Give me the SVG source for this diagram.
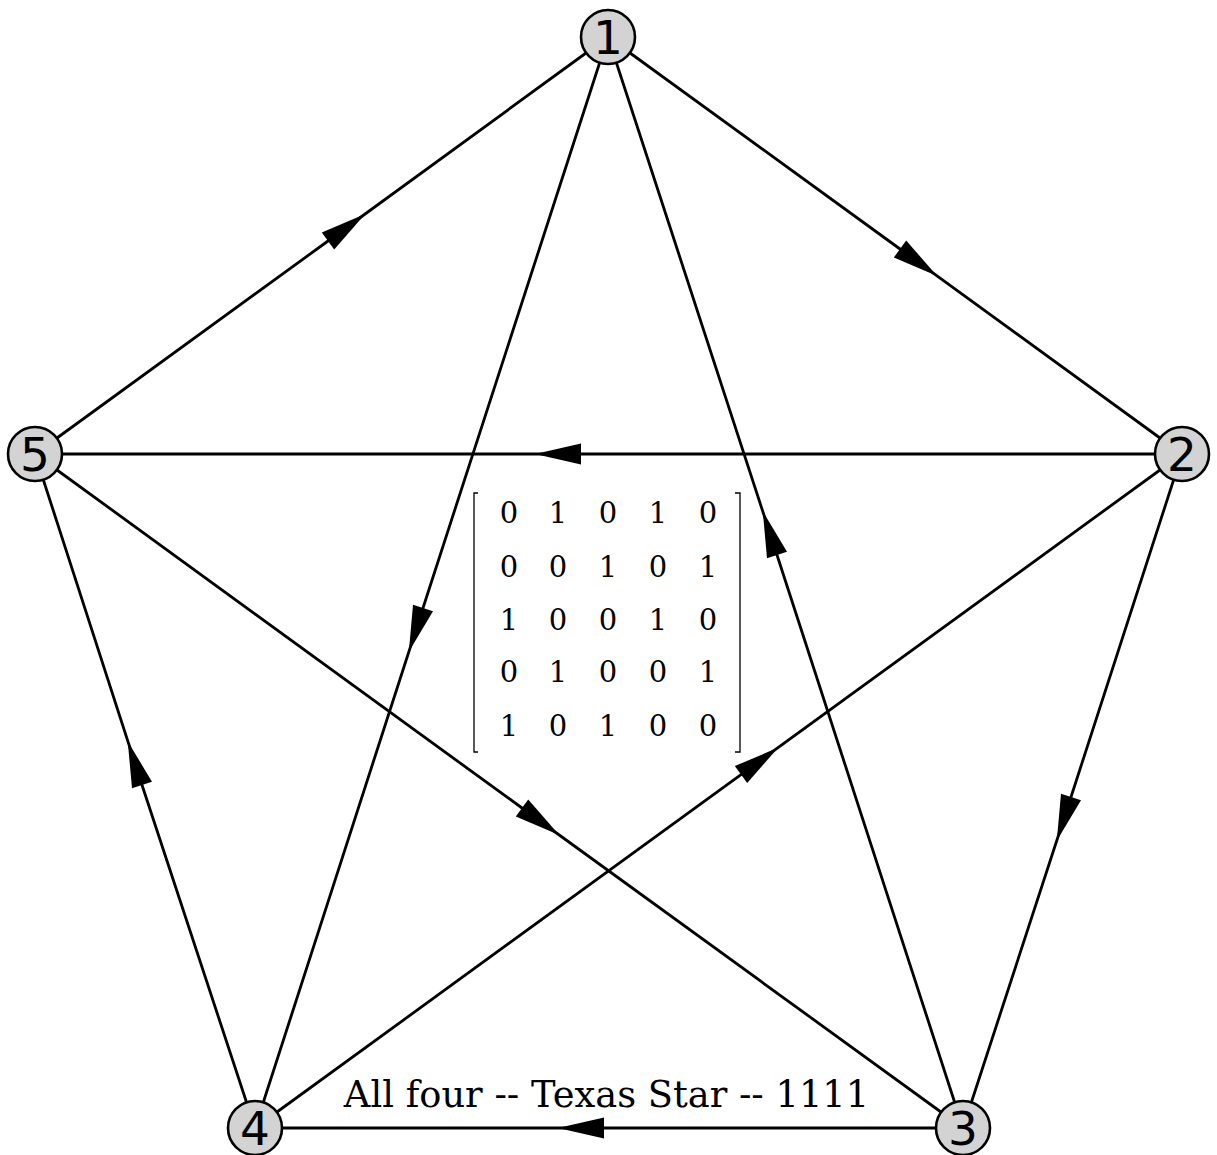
<svg xmlns="http://www.w3.org/2000/svg" width="1217" height="1155" viewBox="0 0 1217 1155">
<style>
.edge{fill:none;stroke:#000;stroke-width:2.8;marker-mid:url(#ah)}
.node circle{fill:#d3d3d3;stroke:#000;stroke-width:2.6}
.node text{font-family:"DejaVu Sans",sans-serif;font-size:47px;text-anchor:middle;fill:#000}
.m{font-family:"DejaVu Serif",serif;font-size:29px;text-anchor:middle;fill:#000}
.br{fill:none;stroke:#000;stroke-width:1.3}
.title{font-family:"DejaVu Serif",serif;font-size:36.8px;text-anchor:middle;fill:#000}
</style>
<defs>
<marker id="ah" markerUnits="userSpaceOnUse" markerWidth="50" markerHeight="24" refX="0" refY="11" orient="auto" overflow="visible">
<polygon points="0,0.5 46,11 0,21.5" fill="#000"/>
</marker>
</defs>
<rect width="1217" height="1155" fill="#fff"/>
<g id="connectors">
<path class="edge" d="M608,37 L900,249 L1182,454"/>
<path class="edge" d="M35,454 L328,241 L608,37"/>
<path class="edge" d="M1182,454 L581,454 L35,454"/>
<path class="edge" d="M608,37 L423,608 L255,1128"/>
<path class="edge" d="M963,1128 L777,555 L608,37"/>
<path class="edge" d="M1182,454 L1071,797 L963,1128"/>
<path class="edge" d="M255,1128 L142,785 L35,454"/>
<path class="edge" d="M35,454 L522,808 L963,1128"/>
<path class="edge" d="M255,1128 L741,774.6 L1182,454"/>
<path class="edge" d="M963,1128 L604,1128 L255,1128"/>
</g>
<g id="node1" class="node"><circle cx="608" cy="37" r="27"/><text x="608" y="54">1</text></g>
<g id="node2" class="node"><circle cx="1182" cy="454" r="27"/><text x="1182" y="471">2</text></g>
<g id="node3" class="node"><circle cx="963" cy="1128" r="27"/><text x="963" y="1145">3</text></g>
<g id="node4" class="node"><circle cx="255" cy="1128" r="27"/><text x="255" y="1145">4</text></g>
<g id="node5" class="node"><circle cx="35" cy="454" r="27"/><text x="35" y="471">5</text></g>
<g id="matrix">
<path class="br" d="M478,493 L474,493 L474,752 L478,752"/>
<path class="br" d="M735,493 L740,493 L740,752 L735,752"/>
<text class="m" y="523"><tspan x="509">0</tspan><tspan x="558">1</tspan><tspan x="608">0</tspan><tspan x="658">1</tspan><tspan x="708">0</tspan></text>
<text class="m" y="577"><tspan x="509">0</tspan><tspan x="558">0</tspan><tspan x="608">1</tspan><tspan x="658">0</tspan><tspan x="708">1</tspan></text>
<text class="m" y="630"><tspan x="509">1</tspan><tspan x="558">0</tspan><tspan x="608">0</tspan><tspan x="658">1</tspan><tspan x="708">0</tspan></text>
<text class="m" y="682"><tspan x="509">0</tspan><tspan x="558">1</tspan><tspan x="608">0</tspan><tspan x="658">0</tspan><tspan x="708">1</tspan></text>
<text class="m" y="736"><tspan x="509">1</tspan><tspan x="558">0</tspan><tspan x="608">1</tspan><tspan x="658">0</tspan><tspan x="708">0</tspan></text>
</g>
<text class="title" x="606.5" y="1107">All four -- Texas Star -- 1111</text>
</svg>
